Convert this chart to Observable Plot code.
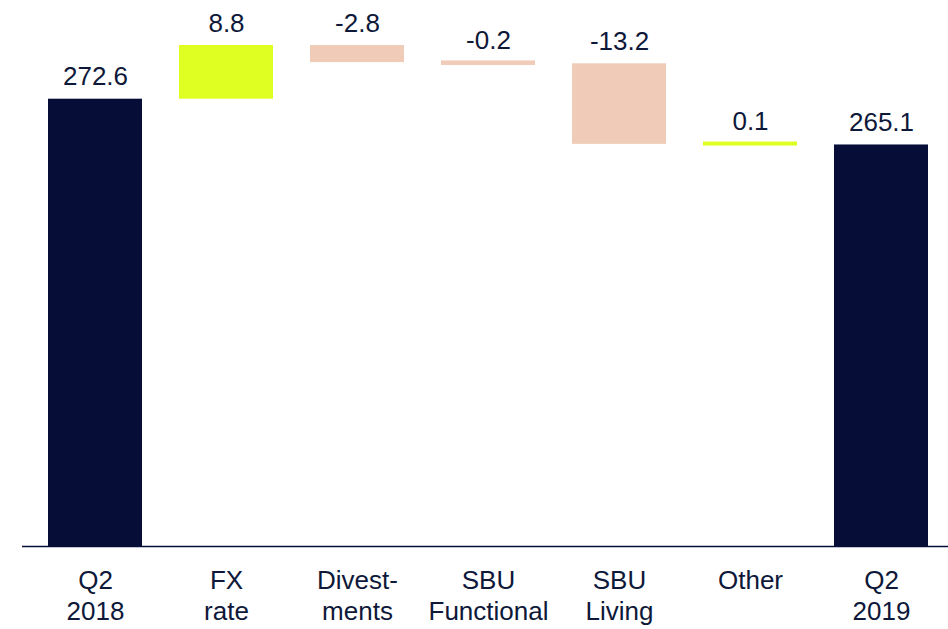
<!DOCTYPE html>
<html>
<head>
<meta charset="utf-8">
<script src="https://cdn.jsdelivr.net/npm/d3@7"></script>
<script src="https://cdn.jsdelivr.net/npm/@observablehq/plot@0.6"></script>
<style>
  html, body { margin: 0; padding: 0; background: #fff; }
  svg { display: block; }
</style>
</head>
<body>
<div id="chart"></div>
<script>
const categories = ["Q2\n2018", "FX\nrate", "Divest-\nments", "SBU\nFunctional", "SBU\nLiving", "Other", "Q2\n2019"];
const values = [272.6, 8.8, -2.8, -0.2, -13.2, 0.1, 265.1];
const kinds = ["total", "delta", "delta", "delta", "delta", "delta", "total"];
const labels = ["272.6", "8.8", "-2.8", "-0.2", "-13.2", "0.1", "265.1"];
const yBase = 199.3;

const navy = "#060E37";
const lime = "#DFFF22";
const peach = "#F0CCB8";
const textColor = "#0E1839";

let running = 0;
const rows = categories.map((c, i) => {
  let start, end;
  if (kinds[i] === "total") { start = yBase; end = values[i]; running = values[i]; }
  else { start = running; end = running + values[i]; running = end; }
  const color = kinds[i] === "total" ? navy : (values[i] >= 0 ? lime : peach);
  return {cat: c, start, end, top: Math.max(start, end), label: labels[i], color, small: kinds[i] === "delta" && Math.abs(values[i]) < 1};
});

const chart = Plot.plot({
  width: 948,
  height: 629,
  marginTop: 45,
  marginBottom: 83,
  marginLeft: 28,
  marginRight: 0,
  style: {fontFamily: "'Liberation Sans', Arial, sans-serif", color: textColor, background: "#fff"},
  x: {domain: categories, paddingInner: 0.284, paddingOuter: 0.142, label: null},
  y: {domain: [yBase, 281.4], axis: null},
  marks: [
    Plot.barY(rows.filter(d => !d.small), {x: "cat", y1: "start", y2: "end", fill: "color"}),
    Plot.barY(rows.filter(d => d.small), {x: "cat", y1: "start", y2: "end", fill: "color", insetTop: -1.7, insetBottom: -1.7}),
    Plot.ruleY([yBase], {stroke: navy, strokeWidth: 1.5, insetLeft: -6}),
    Plot.text(rows, {x: "cat", y: "top", text: "label", lineAnchor: "bottom", dy: -14, fontSize: 26, fill: textColor}),
    Plot.axisX({tickSize: 0, tickPadding: 20, fontSize: 26, lineHeight: 1.2, fill: textColor, label: null})
  ]
});
document.getElementById("chart").appendChild(chart);
</script>
</body>
</html>
